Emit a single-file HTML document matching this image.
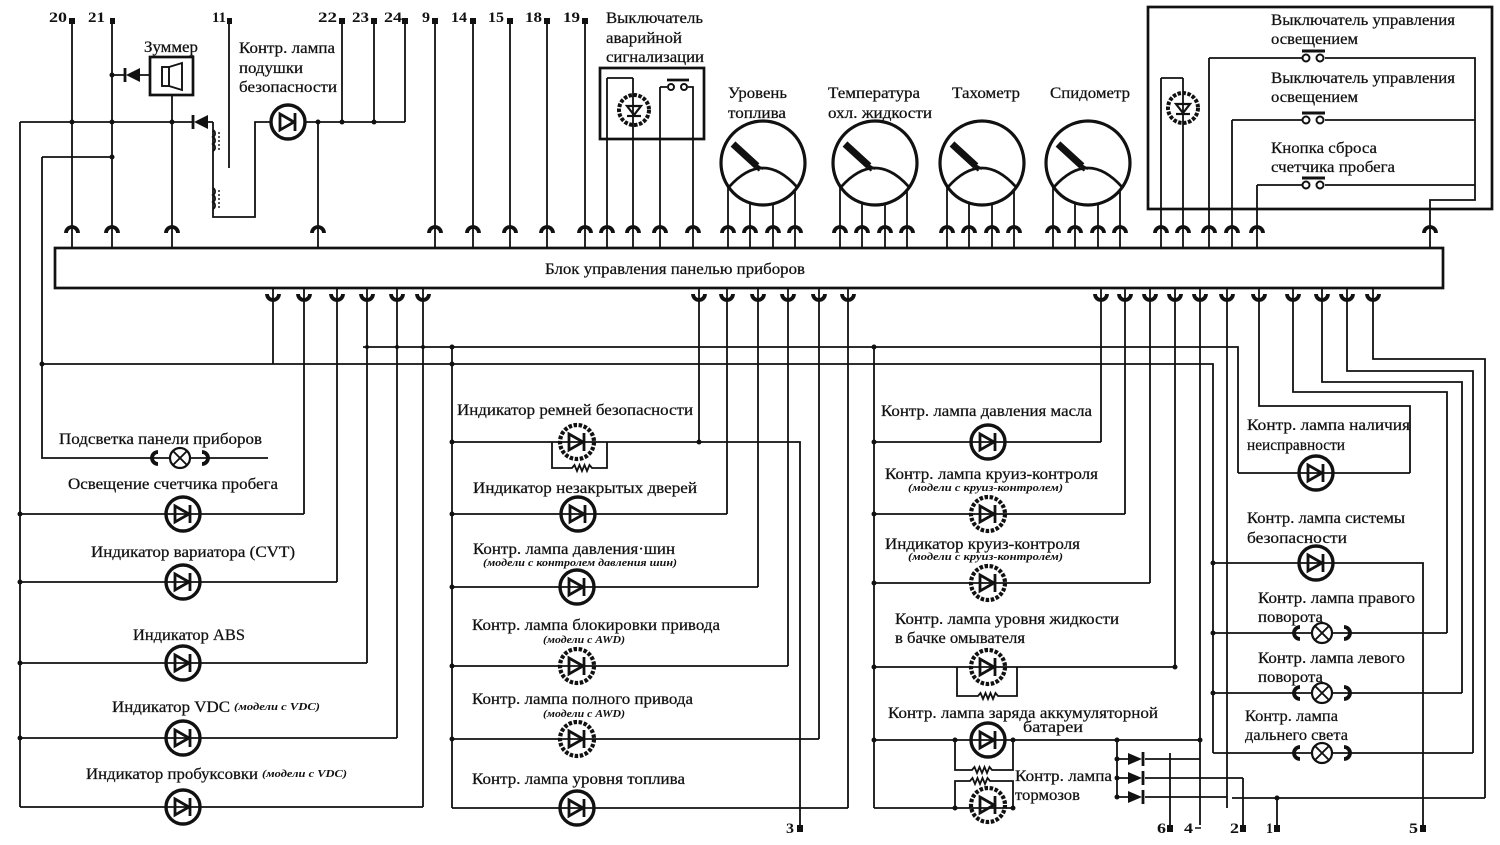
<!DOCTYPE html>
<html><head><meta charset="utf-8"><style>
html,body{margin:0;padding:0;background:#fff;}
svg{display:block;}
.t{font-family:"Liberation Serif","DejaVu Serif",serif;font-size:16px;fill:#111;stroke:#111;stroke-width:0.25;}
.n{font-family:"Liberation Serif","DejaVu Serif",serif;font-size:15px;font-weight:bold;fill:#111;}
.i{font-family:"Liberation Serif","DejaVu Serif",serif;font-size:10px;font-style:italic;font-weight:bold;fill:#111;}
.w{fill:none;stroke:#111;stroke-width:1.8;}
</style></head><body>
<svg width="1500" height="845" viewBox="0 0 1500 845" xmlns="http://www.w3.org/2000/svg">
<rect width="1500" height="845" fill="#fff"/>
<defs>
<g id="d"><circle r="17" fill="none" stroke="#111" stroke-width="3.4"/><path d="M-8,-8 L6,0 L-8,8 Z" fill="none" stroke="#111" stroke-width="2.8"/><line x1="7" y1="-9" x2="7" y2="9" stroke="#111" stroke-width="2.8"/></g>
<g id="g"><circle r="17" fill="none" stroke="#111" stroke-width="4.2" stroke-dasharray="3.5 1.6"/><path d="M-8,-8 L6,0 L-8,8 Z" fill="none" stroke="#111" stroke-width="2.8"/><line x1="7" y1="-9" x2="7" y2="9" stroke="#111" stroke-width="2.8"/></g>
<g id="x"><path d="M-22,-6 A6,6 0 0 0 -22,6" fill="none" stroke="#111" stroke-width="3.8"/><path d="M22,-6 A6,6 0 0 1 22,6" fill="none" stroke="#111" stroke-width="3.8"/><circle r="10" fill="#fff" stroke="#111" stroke-width="2.2"/><path d="M-7,-7 L7,7 M7,-7 L-7,7" stroke="#111" stroke-width="1.9"/></g>
<g id="ua"><path d="M-6,0 A6,6 0 0 1 6,0" fill="none" stroke="#111" stroke-width="3.8"/></g>
<g id="ub"><path d="M-6,0 A6,6 0 0 0 6,0" fill="none" stroke="#111" stroke-width="3.8"/></g>
<g id="gauge"><circle r="42" fill="none" stroke="#111" stroke-width="3.2"/><path d="M-34,24 Q0,-14 34,24" fill="none" stroke="#111" stroke-width="2.8"/><line x1="-30" y1="-19" x2="-6" y2="3" stroke="#111" stroke-width="7"/><path d="M-7,2 L0,6 M-7,2 L-4,8" stroke="#111" stroke-width="2.2"/></g>
<g id="led"><circle r="15" fill="none" stroke="#111" stroke-width="4" stroke-dasharray="3.5 1.5"/><path d="M-7,-4 H7 L0,5 Z" fill="none" stroke="#111" stroke-width="2.2"/><line x1="-7" y1="6" x2="7" y2="6" stroke="#111" stroke-width="2.2"/></g>
<g id="sd"><path d="M0,-6 L14,0 L0,6 Z" fill="#111"/><line x1="15" y1="-7" x2="15" y2="7" stroke="#111" stroke-width="2.8"/></g>
</defs>

<!-- main block -->
<rect x="55" y="248" width="1388" height="40" fill="none" stroke="#111" stroke-width="2.7"/>
<text class="t" x="545" y="274" textLength="260" lengthAdjust="spacingAndGlyphs">Блок управления панелью приборов</text>

<!-- top wires -->
<path class="w" d="M72,24V248 M112,24V248 M172,95V248 M229,24V168 M342,24V122 M374,24V122 M405,24V122 M435,24V248 M473,24V248 M510,24V248 M547,24V248 M585,24V248 M318,122V248
M20,122H192 M207,122H213 M213,122V217H255V122H271 M305,122H405 M42,157H112 M42,157V364 M20,122V807 M112,75H124 M140,75H150"/>
<path class="w" d="M213,130 a4,4 0 0 1 0,7 a4,4 0 0 1 0,7 a4,4 0 0 1 0,7 M213,188 a4,4 0 0 1 0,7 a4,4 0 0 1 0,7 a4,4 0 0 1 0,7" stroke-width="2.2"/>
<path d="M219,132V152 M219,190V210" stroke="#111" stroke-width="1.4" stroke-dasharray="2 2"/>
<line x1="125" y1="68" x2="125" y2="82" stroke="#111" stroke-width="2.8"/><path d="M140,68 L126,75 L140,82 Z" fill="#111"/>
<line x1="193" y1="115" x2="193" y2="129" stroke="#111" stroke-width="2.8"/><path d="M208,115 L194,122 L208,129 Z" fill="#111"/>
<rect x="150" y="57" width="43" height="38" fill="#fff" stroke="#111" stroke-width="2.7"/>
<rect x="162" y="67" width="7" height="19" fill="none" stroke="#111" stroke-width="1.9"/>
<path d="M169,67 L182,63 V90 L169,86" fill="none" stroke="#111" stroke-width="1.9"/>
<use href="#d" x="288" y="122"/>

<g fill="#111">
<rect x="69" y="18" width="6" height="6"/><rect x="110" y="18" width="5" height="6"/><rect x="227" y="18" width="5" height="6"/>
<rect x="339" y="18" width="6" height="6"/><rect x="371" y="18" width="6" height="6"/><rect x="402" y="18" width="6" height="6"/>
<rect x="432" y="18" width="6" height="6"/><rect x="470" y="18" width="6" height="6"/><rect x="507" y="18" width="6" height="6"/>
<rect x="544" y="18" width="6" height="6"/><rect x="582" y="18" width="6" height="6"/>
</g>
<text class="n" x="49" y="22" textLength="18" lengthAdjust="spacingAndGlyphs">20</text>
<text class="n" x="88" y="22" textLength="17" lengthAdjust="spacingAndGlyphs">21</text>
<text class="n" x="212" y="22" textLength="14" lengthAdjust="spacingAndGlyphs">11</text>
<text class="n" x="318" y="22" textLength="19" lengthAdjust="spacingAndGlyphs">22</text>
<text class="n" x="352" y="22" textLength="17" lengthAdjust="spacingAndGlyphs">23</text>
<text class="n" x="384" y="22" textLength="18" lengthAdjust="spacingAndGlyphs">24</text>
<text class="n" x="422" y="22" textLength="8" lengthAdjust="spacingAndGlyphs">9</text>
<text class="n" x="451" y="22" textLength="16" lengthAdjust="spacingAndGlyphs">14</text>
<text class="n" x="488" y="22" textLength="16" lengthAdjust="spacingAndGlyphs">15</text>
<text class="n" x="525" y="22" textLength="17" lengthAdjust="spacingAndGlyphs">18</text>
<text class="n" x="563" y="22" textLength="17" lengthAdjust="spacingAndGlyphs">19</text>

<text class="t" x="144" y="52" textLength="54" lengthAdjust="spacingAndGlyphs">Зуммер</text>
<text class="t" x="239" y="53" textLength="96" lengthAdjust="spacingAndGlyphs">Контр. лампа</text>
<text class="t" x="239" y="73" textLength="64" lengthAdjust="spacingAndGlyphs">подушки</text>
<text class="t" x="239" y="92" textLength="98" lengthAdjust="spacingAndGlyphs">безопасности</text>

<text class="t" x="606" y="23" textLength="97" lengthAdjust="spacingAndGlyphs">Выключатель</text>
<text class="t" x="606" y="43" textLength="76" lengthAdjust="spacingAndGlyphs">аварийной</text>
<text class="t" x="606" y="62" textLength="98" lengthAdjust="spacingAndGlyphs">сигнализации</text>
<rect x="600" y="68" width="104" height="71" fill="none" stroke="#111" stroke-width="2.7"/>
<path class="w" d="M607,78V248 M607,78H633 M633,78V248 M660,87V248 M660,87H667 M688,87H693V248"/>
<use href="#led" x="634" y="110"/>
<circle cx="671" cy="87" r="3" fill="#fff" stroke="#111" stroke-width="2"/><circle cx="684" cy="87" r="3" fill="#fff" stroke="#111" stroke-width="2"/>
<line x1="667" y1="80" x2="689" y2="80" stroke="#111" stroke-width="2.7"/>

<text class="t" x="728" y="98" textLength="59" lengthAdjust="spacingAndGlyphs">Уровень</text>
<text class="t" x="728" y="118" textLength="58" lengthAdjust="spacingAndGlyphs">топлива</text>
<text class="t" x="828" y="98" textLength="92" lengthAdjust="spacingAndGlyphs">Температура</text>
<text class="t" x="828" y="118" textLength="104" lengthAdjust="spacingAndGlyphs">охл. жидкости</text>
<text class="t" x="952" y="98" textLength="68" lengthAdjust="spacingAndGlyphs">Тахометр</text>
<text class="t" x="1050" y="98" textLength="80" lengthAdjust="spacingAndGlyphs">Спидометр</text>
<use href="#gauge" x="763" y="163"/><use href="#gauge" x="875" y="163"/><use href="#gauge" x="982" y="163"/><use href="#gauge" x="1088" y="163"/>
<path class="w" d="M728,186V248 M750,203V248 M773,204V248 M795,190V248
M840,186V248 M862,203V248 M885,204V248 M907,190V248
M947,186V248 M969,203V248 M992,204V248 M1014,190V248
M1053,186V248 M1075,203V248 M1098,204V248 M1120,190V248"/>

<rect x="1148" y="7" width="344" height="202" fill="none" stroke="#111" stroke-width="2.7"/>
<text class="t" x="1271" y="25" textLength="184" lengthAdjust="spacingAndGlyphs">Выключатель управления</text>
<text class="t" x="1271" y="44" textLength="87" lengthAdjust="spacingAndGlyphs">освещением</text>
<text class="t" x="1271" y="83" textLength="184" lengthAdjust="spacingAndGlyphs">Выключатель управления</text>
<text class="t" x="1271" y="102" textLength="87" lengthAdjust="spacingAndGlyphs">освещением</text>
<text class="t" x="1271" y="153" textLength="106" lengthAdjust="spacingAndGlyphs">Кнопка сброса</text>
<text class="t" x="1271" y="172" textLength="124" lengthAdjust="spacingAndGlyphs">счетчика пробега</text>
<path class="w" d="M1161,78V248 M1161,78H1183 M1183,78V248 M1209,58V248 M1209,58H1302 M1325,58H1475V200H1430V248
M1232,120V248 M1232,120H1302 M1325,120H1475 M1257,185V248 M1257,185H1302 M1325,185H1475"/>
<use href="#led" x="1183" y="108"/>
<g fill="#fff" stroke="#111" stroke-width="2">
<circle cx="1306" cy="58" r="3.5"/><circle cx="1320" cy="58" r="3.5"/>
<circle cx="1306" cy="120" r="3.5"/><circle cx="1320" cy="120" r="3.5"/>
<circle cx="1306" cy="185" r="3.5"/><circle cx="1320" cy="185" r="3.5"/>
</g>
<path d="M1302,51H1325 M1302,113H1325 M1302,178H1325" stroke="#111" stroke-width="3"/>

<g>
<use href="#ua" x="72" y="233"/><use href="#ua" x="112" y="233"/><use href="#ua" x="172" y="233"/><use href="#ua" x="318" y="233"/>
<use href="#ua" x="435" y="233"/><use href="#ua" x="473" y="233"/><use href="#ua" x="510" y="233"/><use href="#ua" x="547" y="233"/>
<use href="#ua" x="585" y="233"/><use href="#ua" x="607" y="233"/><use href="#ua" x="633" y="233"/><use href="#ua" x="660" y="233"/>
<use href="#ua" x="693" y="233"/>
<use href="#ua" x="728" y="233"/><use href="#ua" x="750" y="233"/><use href="#ua" x="773" y="233"/><use href="#ua" x="795" y="233"/>
<use href="#ua" x="840" y="233"/><use href="#ua" x="862" y="233"/><use href="#ua" x="885" y="233"/><use href="#ua" x="907" y="233"/>
<use href="#ua" x="947" y="233"/><use href="#ua" x="969" y="233"/><use href="#ua" x="992" y="233"/><use href="#ua" x="1014" y="233"/>
<use href="#ua" x="1053" y="233"/><use href="#ua" x="1075" y="233"/><use href="#ua" x="1098" y="233"/><use href="#ua" x="1120" y="233"/>
<use href="#ua" x="1161" y="233"/><use href="#ua" x="1183" y="233"/><use href="#ua" x="1209" y="233"/><use href="#ua" x="1232" y="233"/>
<use href="#ua" x="1257" y="233"/><use href="#ua" x="1430" y="233"/>
</g>

<g>
<use href="#ub" x="273" y="294"/><use href="#ub" x="304" y="294"/><use href="#ub" x="337" y="294"/><use href="#ub" x="367" y="294"/>
<use href="#ub" x="397" y="294"/><use href="#ub" x="423" y="294"/>
<use href="#ub" x="699" y="294"/><use href="#ub" x="727" y="294"/><use href="#ub" x="758" y="294"/><use href="#ub" x="788" y="294"/>
<use href="#ub" x="819" y="294"/><use href="#ub" x="848" y="294"/>
<use href="#ub" x="1101" y="294"/><use href="#ub" x="1125" y="294"/><use href="#ub" x="1150" y="294"/><use href="#ub" x="1175" y="294"/>
<use href="#ub" x="1200" y="294"/><use href="#ub" x="1227" y="294"/><use href="#ub" x="1259" y="294"/><use href="#ub" x="1293" y="294"/>
<use href="#ub" x="1322" y="294"/><use href="#ub" x="1347" y="294"/><use href="#ub" x="1373" y="294"/>
</g>

<path class="w" d="M273,288V364 M304,288V514 M337,288V582 M367,288V663 M397,288V738 M423,288V807
M699,288V442 M727,288V514 M758,288V587 M788,288V666 M819,288V739 M848,288V808
M1101,288V442 M1125,288V514 M1150,288V583 M1175,288V667 M1200,288V825 M1227,288V808
M1259,288V406H1410V473 M1293,288V392H1447V633 M1322,288V382H1462V693 M1347,288V371H1473V753 M1373,288V359H1485V798
M363,347H1238V473 M42,364H1213V753 M42,364V458H268
M20,514H304 M20,582H337 M20,663H367 M20,738H397 M20,807H423
M452,347V808 M452,442H800V825 M452,514H727 M452,587H758 M452,666H788 M452,739H819 M452,808H848
M874,347V808 M874,442H1101 M874,514H1125 M874,583H1150 M874,667H1175 M874,740H1200 M874,808H1013
M1238,473H1410 M1213,563H1423V825 M1213,633H1447 M1213,693H1462 M1213,753H1473 M1232,798H1485
M1243,778V825 M1277,798V825 M1170,753V825 M1117,740V797
M1117,759H1128 M1145,759H1200 M1117,778H1128 M1145,778H1243 M1117,797H1128 M1145,797H1227"/>

<path class="w" d="M552,442V468H572 l2.5,-3 l2.5,6 l2.5,-6 l2.5,6 l2.5,-6 l2.5,6 l2.5,-6 l2.5,3 H607V442" stroke-width="2.2"/>
<path class="w" d="M957,667V696H978 l2.5,-3 l2.5,6 l2.5,-6 l2.5,6 l2.5,-6 l2.5,6 l2.5,-6 l2.5,3 H1017V667" stroke-width="2.2"/>
<path class="w" d="M955,740V770H972 l2.5,-3 l2.5,6 l2.5,-6 l2.5,6 l2.5,-6 l2.5,6 l2.5,-6 l2.5,3 H1013V740" stroke-width="2.2"/>
<path class="w" d="M955,808V781H970 l2.5,-3 l2.5,6 l2.5,-6 l2.5,6 l2.5,-6 l2.5,6 l2.5,-6 l2.5,3 H1013V808" stroke-width="2.2"/>

<use href="#sd" x="1128" y="759"/><use href="#sd" x="1128" y="778"/><use href="#sd" x="1128" y="797"/>

<use href="#x" x="180" y="458"/>
<use href="#d" x="183" y="514"/><use href="#d" x="183" y="582"/><use href="#d" x="183" y="663"/><use href="#d" x="183" y="738"/><use href="#d" x="183" y="807"/>
<use href="#g" x="577" y="442"/><use href="#d" x="578" y="514"/><use href="#d" x="577" y="587"/><use href="#g" x="577" y="666"/><use href="#g" x="577" y="739"/><use href="#d" x="577" y="808"/>
<use href="#d" x="988" y="442"/><use href="#g" x="988" y="514"/><use href="#g" x="988" y="583"/><use href="#g" x="988" y="667"/><use href="#d" x="988" y="740"/><use href="#g" x="988" y="805"/>
<use href="#d" x="1316" y="473"/><use href="#d" x="1316" y="563"/>
<use href="#x" x="1322" y="633"/><use href="#x" x="1322" y="693"/><use href="#x" x="1322" y="753"/>

<g fill="#111">
<circle cx="72" cy="122" r="2.5"/><circle cx="112" cy="122" r="2.5"/><circle cx="172" cy="122" r="2.5"/><circle cx="112" cy="157" r="2.5"/><circle cx="112" cy="75" r="2.5"/>
<circle cx="318" cy="122" r="2.5"/><circle cx="342" cy="122" r="2.5"/><circle cx="374" cy="122" r="2.5"/>
<circle cx="20" cy="514" r="2.5"/><circle cx="20" cy="582" r="2.5"/><circle cx="20" cy="663" r="2.5"/><circle cx="20" cy="738" r="2.5"/><circle cx="42" cy="364" r="2.5"/>
<circle cx="452" cy="347" r="2.5"/><circle cx="452" cy="364" r="2.5"/><circle cx="452" cy="442" r="2.5"/><circle cx="452" cy="514" r="2.5"/><circle cx="452" cy="587" r="2.5"/><circle cx="452" cy="666" r="2.5"/><circle cx="452" cy="739" r="2.5"/>
<circle cx="699" cy="442" r="2.5"/><circle cx="874" cy="347" r="2.5"/><circle cx="874" cy="442" r="2.5"/><circle cx="874" cy="514" r="2.5"/><circle cx="874" cy="583" r="2.5"/><circle cx="874" cy="667" r="2.5"/><circle cx="874" cy="740" r="2.5"/>
<circle cx="1175" cy="667" r="2.5"/><circle cx="1013" cy="740" r="2.5"/><circle cx="1013" cy="808" r="2.5"/><circle cx="955" cy="740" r="2.5"/><circle cx="955" cy="808" r="2.5"/>
<circle cx="1117" cy="740" r="2.5"/><circle cx="1117" cy="759" r="2.5"/><circle cx="1117" cy="778" r="2.5"/><circle cx="1117" cy="797" r="2.5"/>
<circle cx="1213" cy="563" r="2.5"/><circle cx="1213" cy="633" r="2.5"/><circle cx="1213" cy="693" r="2.5"/><circle cx="1277" cy="798" r="2.5"/><circle cx="1200" cy="740" r="2.5"/>
<circle cx="367" cy="347" r="2"/><circle cx="397" cy="347" r="2"/><circle cx="423" cy="347" r="2"/>
</g>

<text class="t" x="59" y="444" textLength="203" lengthAdjust="spacingAndGlyphs">Подсветка панели приборов</text>
<text class="t" x="68" y="489" textLength="210" lengthAdjust="spacingAndGlyphs">Освещение счетчика пробега</text>
<text class="t" x="91" y="557" textLength="204" lengthAdjust="spacingAndGlyphs">Индикатор вариатора (CVT)</text>
<text class="t" x="133" y="640" textLength="112" lengthAdjust="spacingAndGlyphs">Индикатор ABS</text>
<text class="t" x="112" y="712" textLength="118" lengthAdjust="spacingAndGlyphs">Индикатор VDC</text>
<text class="i" x="234" y="710" textLength="86" lengthAdjust="spacingAndGlyphs">(модели с VDC)</text>
<text class="t" x="86" y="779" textLength="172" lengthAdjust="spacingAndGlyphs">Индикатор пробуксовки</text>
<text class="i" x="262" y="777" textLength="85" lengthAdjust="spacingAndGlyphs">(модели с VDC)</text>

<text class="t" x="457" y="415" textLength="236" lengthAdjust="spacingAndGlyphs">Индикатор ремней безопасности</text>
<text class="t" x="473" y="493" textLength="224" lengthAdjust="spacingAndGlyphs">Индикатор незакрытых дверей</text>
<text class="t" x="473" y="554" textLength="202" lengthAdjust="spacingAndGlyphs">Контр. лампа давления·шин</text>
<text class="i" x="483" y="566" textLength="194" lengthAdjust="spacingAndGlyphs">(модели с контролем давления шин)</text>
<text class="t" x="472" y="630" textLength="248" lengthAdjust="spacingAndGlyphs">Контр. лампа блокировки привода</text>
<text class="i" x="543" y="643" textLength="82" lengthAdjust="spacingAndGlyphs">(модели с AWD)</text>
<text class="t" x="472" y="704" textLength="221" lengthAdjust="spacingAndGlyphs">Контр. лампа полного привода</text>
<text class="i" x="543" y="717" textLength="82" lengthAdjust="spacingAndGlyphs">(модели с AWD)</text>
<text class="t" x="472" y="784" textLength="213" lengthAdjust="spacingAndGlyphs">Контр. лампа уровня топлива</text>

<text class="t" x="881" y="416" textLength="211" lengthAdjust="spacingAndGlyphs">Контр. лампа давления масла</text>
<text class="t" x="885" y="479" textLength="213" lengthAdjust="spacingAndGlyphs">Контр. лампа круиз-контроля</text>
<text class="i" x="908" y="491" textLength="155" lengthAdjust="spacingAndGlyphs">(модели с круиз-контролем)</text>
<text class="t" x="885" y="549" textLength="195" lengthAdjust="spacingAndGlyphs">Индикатор круиз-контроля</text>
<text class="i" x="908" y="560" textLength="155" lengthAdjust="spacingAndGlyphs">(модели с круиз-контролем)</text>
<text class="t" x="895" y="624" textLength="224" lengthAdjust="spacingAndGlyphs">Контр. лампа уровня жидкости</text>
<text class="t" x="895" y="643" textLength="130" lengthAdjust="spacingAndGlyphs">в бачке омывателя</text>
<text class="t" x="888" y="718" textLength="270" lengthAdjust="spacingAndGlyphs">Контр. лампа заряда аккумуляторной</text>
<text class="t" x="1023" y="732" textLength="60" lengthAdjust="spacingAndGlyphs">батареи</text>
<text class="t" x="1015" y="781" textLength="97" lengthAdjust="spacingAndGlyphs">Контр. лампа</text>
<text class="t" x="1015" y="800" textLength="65" lengthAdjust="spacingAndGlyphs">тормозов</text>

<text class="t" x="1247" y="430" textLength="163" lengthAdjust="spacingAndGlyphs">Контр. лампа наличия</text>
<text class="t" x="1247" y="450" textLength="98" lengthAdjust="spacingAndGlyphs">неисправности</text>
<text class="t" x="1247" y="523" textLength="158" lengthAdjust="spacingAndGlyphs">Контр. лампа системы</text>
<text class="t" x="1247" y="543" textLength="100" lengthAdjust="spacingAndGlyphs">безопасности</text>
<text class="t" x="1258" y="603" textLength="157" lengthAdjust="spacingAndGlyphs">Контр. лампа правого</text>
<text class="t" x="1258" y="622" textLength="65" lengthAdjust="spacingAndGlyphs">поворота</text>
<text class="t" x="1258" y="663" textLength="147" lengthAdjust="spacingAndGlyphs">Контр. лампа левого</text>
<text class="t" x="1258" y="682" textLength="65" lengthAdjust="spacingAndGlyphs">поворота</text>
<text class="t" x="1245" y="721" textLength="93" lengthAdjust="spacingAndGlyphs">Контр. лампа</text>
<text class="t" x="1245" y="740" textLength="103" lengthAdjust="spacingAndGlyphs">дальнего света</text>

<g fill="#111">
<rect x="797" y="825" width="6" height="7"/><rect x="1167" y="825" width="6" height="7"/><rect x="1240" y="825" width="6" height="7"/>
<rect x="1274" y="825" width="6" height="7"/><rect x="1420" y="825" width="6" height="7"/>
</g>
<text class="n" x="786" y="833" font-size="13" textLength="8" lengthAdjust="spacingAndGlyphs">3</text>
<text class="n" x="1157" y="833" textLength="9" lengthAdjust="spacingAndGlyphs">6</text>
<text class="n" x="1184" y="833" textLength="9" lengthAdjust="spacingAndGlyphs">4</text>
<path d="M1195,828H1201" stroke="#111" stroke-width="1.5"/>
<text class="n" x="1230" y="833" textLength="9" lengthAdjust="spacingAndGlyphs">2</text>
<text class="n" x="1266" y="833" textLength="7" lengthAdjust="spacingAndGlyphs">1</text>
<text class="n" x="1409" y="833" textLength="9" lengthAdjust="spacingAndGlyphs">5</text>
</svg>
</body></html>
